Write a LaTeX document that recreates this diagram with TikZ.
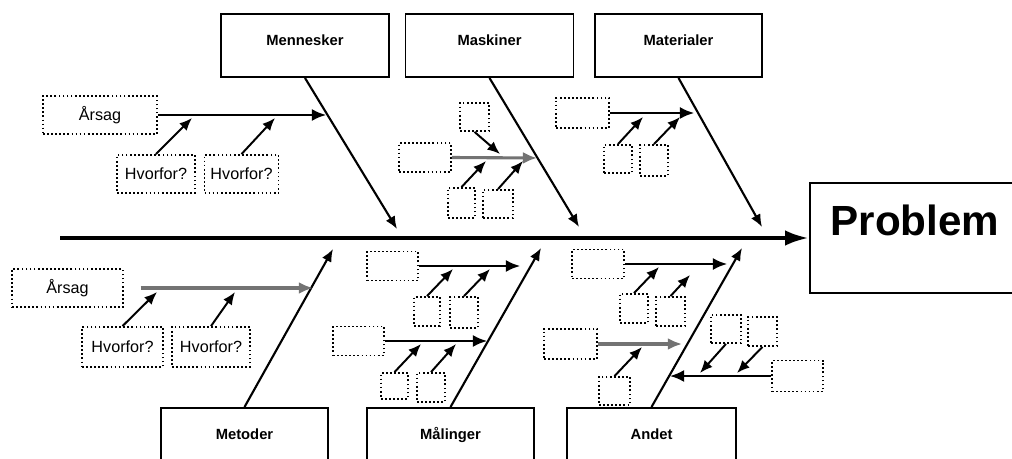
\documentclass[tikz,border=0pt]{standalone}
\usepackage{fontspec}
\setmainfont{Liberation Sans}
\usetikzlibrary{arrows.meta,positioning}

\begin{document}
\begin{tikzpicture}
[x=0.025cm,y=-0.025cm%
,sz/.style 2 args={minimum width=#1*0.025cm,%
                   minimum height=#2*0.025cm}%
,catbox/.style={draw=black,%
                line width=1.4pt,%
                inner sep=0pt,%
                text depth=8pt,%
                font=\fontsize{10.5}{12}\selectfont\bfseries}%
,cause/.style={draw=black,%
               line width=1.3pt,%
               dash pattern=on 1.2pt off 1.7pt,%
               inner sep=0pt,%
               font=\fontsize{11.5}{13}\selectfont}%
,spine/.style={line width=3pt,-{Latex[length=17pt,width=11pt]}}%
,bone/.style={line width=1.5pt,-{Latex[length=9pt,width=7.5pt]}}%
,branch/.style={line width=1.4pt,-{Latex[length=10pt,width=8.5pt]}}%
,greybranch/.style={branch,draw=black!55,line width=2.2pt}%
,rib/.style={line width=1.4pt,-{Latex[length=9pt,width=7.5pt]}}]
\useasboundingbox (0,0) rectangle (1012,459);
\clip (0,0) rectangle (1012,459);

% categories
\node[catbox,sz={168}{63}] (mennesker) at (305,45.5) {Mennesker};
\node[catbox,sz={168}{63}] (maskiner) at (489.5,45.5) {Maskiner};
\node[catbox,sz={167}{63}] (materialer) at (678.5,45.5) {Materialer};
\node[catbox,sz={167}{63}] (metoder) at (244.5,439.5) {Metoder};
\node[catbox,sz={167}{63}] (malinger) at (450.5,439.5) {Målinger};
\node[catbox,sz={169}{63}] (andet) at (651.5,439.5) {Andet};
\node[catbox,sz={240}{110},anchor=west] (problem) at (809,238) {};
\node[font=\fontsize{30}{36}\selectfont\bfseries] (problemtext) at (915,220) {Problem};

% spine and bones
\coordinate (tail) at (60,238);
\draw[spine] (tail) -- (problem.west);
\coordinate (mnTip) at (397,229);
\coordinate (mkTip) at (579,227);
\coordinate (mtTip) at (762,227);
\coordinate (meTip) at (333,249);
\coordinate (mlTip) at (541,248);
\coordinate (anTip) at (742,248);
\draw[bone] (mennesker.south) -- (mnTip);
\draw[bone] (maskiner.south) -- (mkTip);
\draw[bone] (materialer.south) -- (mtTip);
\draw[bone] (metoder.north) -- (meTip);
\draw[bone] (malinger.north) -- (mlTip);
\draw[bone] (andet.north) -- (anTip);

% Mennesker
\node[cause,sz={114}{38}] (arsagA) at (100,115) {Årsag};
\node[cause,sz={78}{38}] (whyA1) at (156,174) {Hvorfor?};
\node[cause,sz={74}{38}] (whyA2) at (241.5,174) {Hvorfor?};
\coordinate (mnEnd) at (326,115);
\coordinate (mnEnd1) at (192,118);
\coordinate (mnEnd2) at (275,118);
\draw[branch] (arsagA.east) -- (mnEnd);
\draw[rib] (whyA1.north) -- (mnEnd1);
\draw[rib] (whyA2.north) -- (mnEnd2);

% Metoder
\node[cause,sz={111}{38}] (arsagB) at (67.5,288) {Årsag};
\node[cause,sz={81}{40}] (whyB1) at (122.5,347) {Hvorfor?};
\node[cause,sz={78}{40}] (whyB2) at (211,347) {Hvorfor?};
\coordinate (meEnd) at (313,288);
\coordinate (meEnd1) at (157,292);
\coordinate (meEnd2) at (235,292);
\draw[greybranch,shorten <=0.42cm] (arsagB.east) -- (meEnd);
\draw[rib] (whyB1.north) -- (meEnd1);
\draw[rib] (whyB2.north) -- (meEnd2);

% Maskiner
\node[cause,sz={29}{28}] (mk0) at (474.5,117) {};
\node[cause,sz={52}{29}] (mk) at (425,157.5) {};
\node[cause,sz={27}{30}] (mk1) at (461.5,203) {};
\node[cause,sz={30}{28}] (mk2) at (498,204) {};
\coordinate (mkEnd) at (537,158);
\coordinate (mkEnd0) at (500,154);
\coordinate (mkEnd1) at (486,161);
\coordinate (mkEnd2) at (523,161);
\draw[greybranch] (mk.east) -- (mkEnd);
\draw[rib] (mk0.south) -- (mkEnd0);
\draw[rib] (mk1.north) -- (mkEnd1);
\draw[rib] (mk2.north) -- (mkEnd2);

% Materialer
\node[cause,sz={53}{30}] (mt) at (582.5,113) {};
\node[cause,sz={28}{28}] (mt1) at (618,159) {};
\node[cause,sz={28}{31}] (mt2) at (654,160.5) {};
\coordinate (mtEnd) at (694,113);
\coordinate (mtEnd1) at (643,117);
\coordinate (mtEnd2) at (680,117);
\draw[branch] (mt.east) -- (mtEnd);
\draw[rib] (mt1.north) -- (mtEnd1);
\draw[rib] (mt2.north) -- (mtEnd2);

% Malinger
\node[cause,sz={51}{29}] (mlU) at (392.5,266) {};
\node[cause,sz={26}{29}] (mlU1) at (427,311.5) {};
\node[cause,sz={28}{31}] (mlU2) at (464,312.5) {};
\node[cause,sz={51}{29}] (mlL) at (358.5,341) {};
\node[cause,sz={27}{26}] (mlL1) at (394.5,386) {};
\node[cause,sz={28}{29}] (mlL2) at (431,387.5) {};
\coordinate (mlUEnd) at (520,266);
\coordinate (mlUEnd1) at (453,269);
\coordinate (mlUEnd2) at (490,269);
\coordinate (mlLEnd) at (487,341);
\coordinate (mlLEnd1) at (421,344);
\coordinate (mlLEnd2) at (456,344);
\draw[branch] (mlU.east) -- (mlUEnd);
\draw[rib] (mlU1.north) -- (mlUEnd1);
\draw[rib] (mlU2.north) -- (mlUEnd2);
\draw[branch] (mlL.east) -- (mlLEnd);
\draw[rib] (mlL1.north) -- (mlLEnd1);
\draw[rib] (mlL2.north) -- (mlLEnd2);

% Andet
\node[cause,sz={52}{29}] (anU) at (598,264) {};
\node[cause,sz={28}{29}] (anU1) at (634,308.5) {};
\node[cause,sz={29}{29}] (anU2) at (670.5,311.5) {};
\node[cause,sz={53}{30}] (anM) at (570.5,344) {};
\node[cause,sz={31}{28}] (anM1) at (614.5,391) {};
\node[cause,sz={51}{31}] (anR) at (797.5,376) {};
\node[cause,sz={30}{28}] (anR1) at (726,329) {};
\node[cause,sz={29}{29}] (anR2) at (762.5,331.5) {};
\coordinate (anUEnd) at (727,264);
\coordinate (anUEnd1) at (659,267);
\coordinate (anUEnd2) at (690,275);
\coordinate (anMEnd) at (682,344);
\coordinate (anMEnd1) at (642,347);
\coordinate (anREnd) at (670,376);
\coordinate (anREnd1) at (700,373);
\coordinate (anREnd2) at (737,373);
\draw[branch] (anU.east) -- (anUEnd);
\draw[rib] (anU1.north) -- (anUEnd1);
\draw[rib] (anU2.north) -- (anUEnd2);
\draw[greybranch] (anM.east) -- (anMEnd);
\draw[rib] (anM1.north) -- (anMEnd1);
\draw[branch] (anR.west) -- (anREnd);
\draw[rib] (anR1.south) -- (anREnd1);
\draw[rib] (anR2.south) -- (anREnd2);
\end{tikzpicture}
\end{document}
